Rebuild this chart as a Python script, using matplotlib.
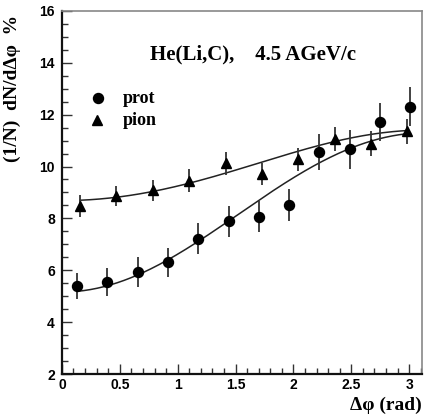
import numpy as np
import matplotlib
matplotlib.use("Agg")
import matplotlib.pyplot as plt
from matplotlib.ticker import MultipleLocator, FuncFormatter

# protons: 12 bins in delta-phi (bin centres, rad)
prot_x = [0.131, 0.393, 0.654, 0.916, 1.178, 1.440, 1.702, 1.963, 2.225, 2.487, 2.749, 3.011]
prot_y = [5.38, 5.55, 5.94, 6.30, 7.21, 7.89, 8.06, 8.51, 10.56, 10.66, 11.72, 12.30]
prot_err = [0.50, 0.55, 0.57, 0.55, 0.60, 0.60, 0.60, 0.62, 0.70, 0.74, 0.74, 0.75]

# pions: 10 bins in delta-phi (bin centres, rad)
pion_x = [0.157, 0.471, 0.785, 1.100, 1.414, 1.728, 2.042, 2.356, 2.670, 2.985]
pion_y = [8.47, 8.86, 9.08, 9.46, 10.12, 9.72, 10.28, 11.05, 10.88, 11.35]
pion_err = [0.42, 0.37, 0.40, 0.43, 0.43, 0.43, 0.45, 0.47, 0.47, 0.50]

# fit parameters: a0 + a1*cos(dphi) + a2*cos(2*dphi)
prot_fit = (8.265, -3.07, -0.035)
pion_fit = (10.00, -1.36, 0.045)

serif = "Liberation Serif"
sans = "Liberation Sans"


def fit_curve(params, x):
    a0, a1, a2 = params
    return a0 + a1 * np.cos(x) + a2 * np.cos(2 * x)


fig = plt.figure(figsize=(4.24, 4.17), dpi=100)
ax = fig.add_axes([0.146, 0.103, 0.849, 0.871])

for xv, params in ((prot_x, prot_fit), (pion_x, pion_fit)):
    xs = np.linspace(xv[0], xv[-1], 200)
    ax.plot(xs, fit_curve(params, xs), color="#222222", lw=1.1)

ax.errorbar(prot_x, prot_y, yerr=prot_err, fmt="o", color="black", ms=7.2,
            ecolor="#333333", elinewidth=1.3, capsize=0, zorder=3)
ax.errorbar(pion_x, pion_y, yerr=pion_err, fmt="^", color="black", ms=7.6,
            ecolor="#333333", elinewidth=1.3, capsize=0, zorder=3)

ax.set_xlim(0, 3.11)
ax.set_ylim(2, 16)
ax.xaxis.set_major_locator(MultipleLocator(0.5))
ax.xaxis.set_minor_locator(MultipleLocator(0.1))
ax.yaxis.set_major_locator(MultipleLocator(2))
ax.yaxis.set_minor_locator(MultipleLocator(0.5))
ax.xaxis.set_major_formatter(FuncFormatter(lambda v, p: f"{v:g}"))
ax.tick_params(which="both", direction="in", top=False, right=False, width=1.0,
               color="#333333")
ax.tick_params(which="major", length=7)
ax.tick_params(which="minor", length=4)
ax.tick_params(axis="y", pad=5)
ax.tick_params(axis="x", pad=3)
for lab in ax.get_xticklabels() + ax.get_yticklabels():
    lab.set_fontfamily(sans)
    lab.set_fontweight("bold")
    lab.set_fontsize(10)

for side in ("left", "bottom"):
    ax.spines[side].set_linewidth(1.6)
    ax.spines[side].set_color("#111111")
for side in ("top", "right"):
    ax.spines[side].set_linewidth(1.2)
    ax.spines[side].set_color("#888888")

ax.set_ylabel("(1/N)  dN/dΔφ  %", family=serif, fontweight="bold", fontsize=14)
ax.yaxis.set_label_coords(-0.114, 0.785)
ax.set_xlabel("Δφ (rad)", family=serif, fontweight="bold", fontsize=14,
              loc="right", labelpad=3)

ax.text(0.245, 0.881, "He(Li,C),    4.5 AGeV/c", transform=ax.transAxes,
        family=serif, fontweight="bold", fontsize=15, va="center", ha="left")

# legend drawn by hand
ax.plot([0.31], [12.63], "o", color="black", ms=7.2)
ax.plot([0.30], [11.78], "^", color="black", ms=7.6)
ax.text(0.527, 12.63, "prot", family=serif, fontweight="bold", fontsize=13,
        va="center", ha="left")
ax.text(0.527, 11.78, "pion", family=serif, fontweight="bold", fontsize=13,
        va="center", ha="left")

fig.savefig("out.png", dpi=100)
